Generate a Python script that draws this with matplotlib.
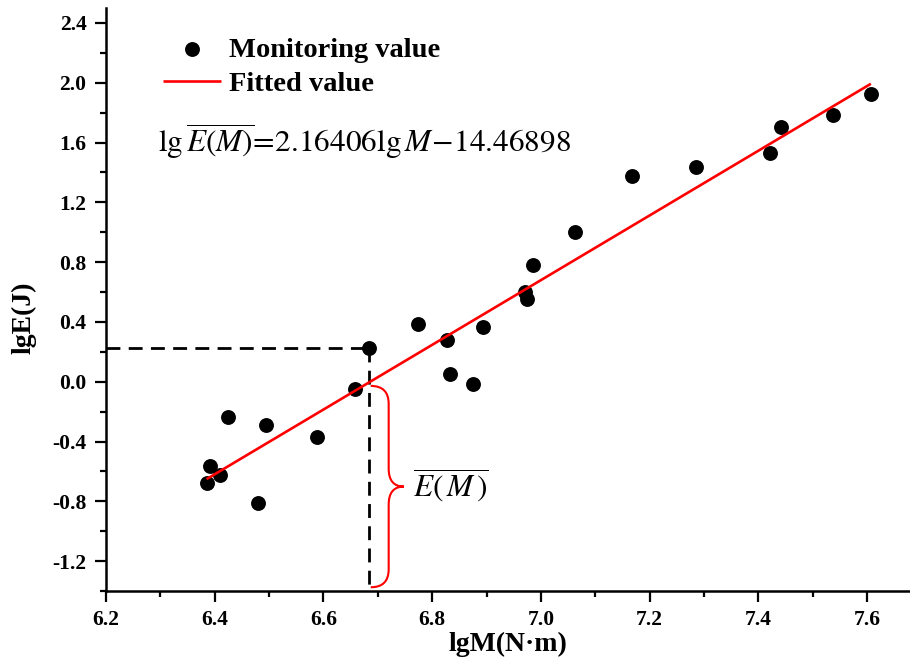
import matplotlib
matplotlib.use('Agg')
import matplotlib.pyplot as plt
import numpy as np
from matplotlib.path import Path
from matplotlib.patches import PathPatch
from matplotlib.ticker import MultipleLocator, FixedLocator, FormatStrFormatter

# ---------------- data ----------------
lgM = [6.385, 6.391, 6.410, 6.424, 6.480, 6.494, 6.588, 6.658, 6.683, 6.774,
       6.827, 6.833, 6.875, 6.894, 6.971, 6.975, 6.986, 7.062, 7.168, 7.286,
       7.422, 7.442, 7.537, 7.607]
lgE = [-0.679, -0.561, -0.623, -0.239, -0.809, -0.288, -0.367, -0.047, 0.226, 0.387,
       0.277, 0.052, -0.015, 0.367, 0.603, 0.556, 0.784, 0.999, 1.374, 1.434,
       1.528, 1.702, 1.783, 1.924]
slope = 2.16406
intercept = -14.46898
x_ticks = [6.2, 6.4, 6.6, 6.8, 7.0, 7.2, 7.4, 7.6]
y_ticks = [-1.2, -0.8, -0.4, 0.0, 0.4, 0.8, 1.2, 1.6, 2.0, 2.4]
marked_index = 8  # monitoring point with dashed guide lines

plt.rcParams['font.family'] = ['Liberation Serif', 'DejaVu Serif']
plt.rcParams['mathtext.fontset'] = 'stix'
plt.rcParams['axes.unicode_minus'] = False

fig = plt.figure(figsize=(9.1, 6.7), dpi=100)
ax = fig.add_axes([106 / 910, 1 - 591 / 670, (910 - 106) / 910, (591 - 8) / 670])

xlim = (6.2, 7.679)
ylim = (-1.4, 2.5)
ax.set_xlim(*xlim)
ax.set_ylim(*ylim)

# scatter
sc = ax.scatter(lgM, lgE, s=115, color='black', zorder=3, label='Monitoring value',
                linewidths=0)

# fitted line
xf = np.array([min(lgM), max(lgM)])
ln, = ax.plot(xf, slope * xf + intercept, color='#ff0000', lw=1.9, zorder=4,
              label='Fitted value', solid_capstyle='butt')

# dashed guide lines
xm = lgM[marked_index]
ym = lgE[marked_index]
ax.plot([xlim[0], xm], [ym, ym], color='black', lw=2.0, ls=(0, (5, 3)), zorder=2,
        clip_on=False)
ax.plot([xm, xm], [ym, ylim[0]], color='black', lw=2.0, ls=(0, (5, 3)), zorder=2,
        clip_on=False)

# curly brace between fitted value and bottom axis
x0 = xm + 0.004
top = slope * x0 + intercept - 0.03
bot = ylim[0] + 0.025
mid = (top + bot) / 2
w1, w2, r = 0.033, 0.061, 0.12
verts = [(x0, top), (x0 + w1, top), (x0 + w1, top - r),
         (x0 + w1, mid + r),
         (x0 + w1, mid), (x0 + w2, mid),
         (x0 + w1, mid), (x0 + w1, mid - r),
         (x0 + w1, bot + r),
         (x0 + w1, bot), (x0, bot)]
codes = [Path.MOVETO, Path.CURVE3, Path.CURVE3,
         Path.LINETO,
         Path.CURVE3, Path.CURVE3,
         Path.CURVE3, Path.CURVE3,
         Path.LINETO,
         Path.CURVE3, Path.CURVE3]
ax.add_patch(PathPatch(Path(verts, codes), facecolor='none', edgecolor='#ff0000',
                       lw=1.5, zorder=3))
ax.text(x0 + w2 + 0.016, mid + 0.01, r'$\overline{E(\,M\,)}$', fontsize=22.5, va='center',
        ha='left', color='black')

# equation
ax.text(6.296, 1.61,
        r'$\mathrm{lg}\,\overline{E(M)}\!=\!2.16406\mathrm{lg}\,M\!-\!14.46898$',
        fontsize=22.5, va='center', ha='left', color='black')

# legend
leg = ax.legend(handles=[sc, ln], loc='upper left', bbox_to_anchor=(163 / 910, 1 - 37 / 670),
                bbox_transform=fig.transFigure, frameon=False, borderpad=0,
                borderaxespad=0, handlelength=2.05, handletextpad=0.28,
                labelspacing=0.3, scatterpoints=1,
                prop={'family': 'Liberation Serif', 'weight': 'bold', 'size': 20.5})

# axes styling
for s in ['top', 'right']:
    ax.spines[s].set_visible(False)
for s in ['left', 'bottom']:
    ax.spines[s].set_linewidth(1.8)

ax.xaxis.set_major_locator(FixedLocator(x_ticks))
ax.yaxis.set_major_locator(FixedLocator(y_ticks))
ax.xaxis.set_minor_locator(MultipleLocator(0.1))
ax.yaxis.set_minor_locator(MultipleLocator(0.2))
ax.xaxis.set_major_formatter(FormatStrFormatter('%.1f'))
ax.yaxis.set_major_formatter(FormatStrFormatter('%.1f'))
ax.tick_params(which='major', direction='out', length=8, width=1.6, pad=6,
               labelsize=15.5)
ax.tick_params(which='minor', direction='out', length=4, width=1.6)
for lab in ax.get_xticklabels() + ax.get_yticklabels():
    lab.set_fontweight('bold')

ax.set_xlabel('lgM(N·m)', fontsize=20, fontweight='bold', labelpad=1)
ax.set_ylabel('lgE(J)', fontsize=20, fontweight='bold')
ax.yaxis.set_label_coords(-0.086, (591 - 318) / 583)

fig.savefig('out.png', dpi=100)
